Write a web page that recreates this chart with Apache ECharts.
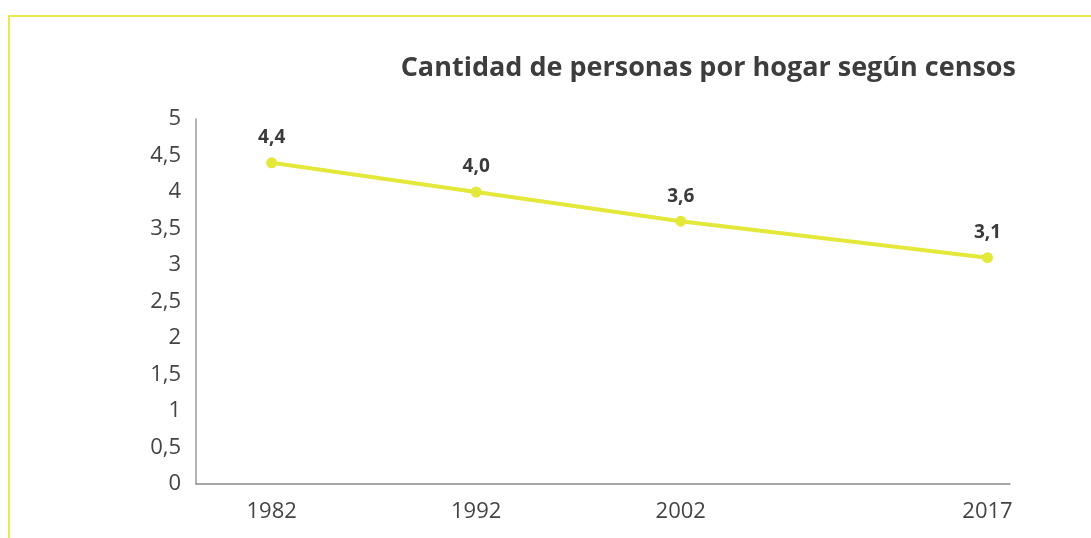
<!DOCTYPE html>
<html>
<head>
<meta charset="utf-8">
<script src="https://cdn.jsdelivr.net/npm/echarts@6/dist/echarts.min.js"></script>
<style>
  html, body { margin: 0; padding: 0; background: #fff; }
  #chart { width: 1091px; height: 538px; }
  .frame {
    position: absolute; left: 8px; top: 15px; right: -10px; bottom: -10px;
    border-top: 2px solid #e6ea4c; border-left: 2px solid #e6ea4c;
    pointer-events: none;
  }
</style>
</head>
<body>
<div id="chart"></div>
<div class="frame"></div>
<script>
// datos del gráfico
const years = [1982, 1992, 2002, 2017];
const personasPorHogar = [4.4, 4.0, 3.6, 3.1];
const yTicks = [0, 0.5, 1, 1.5, 2, 2.5, 3, 3.5, 4, 4.5, 5];

const coma = v => String(v).replace('.', ',');

const myChart = echarts.init(document.getElementById('chart'));

const option = {
  animation: false,
  title: {
    text: 'Cantidad de personas por hogar según censos',
    right: 70,
    top: 50,
    textStyle: {
      fontFamily: 'Open Sans',
      fontSize: 27,
      fontWeight: 'bold',
      color: '#3d3d3d'
    }
  },
  grid: {
    left: 196,
    right: 81,
    top: 119,
    bottom: 54
  },
  xAxis: {
    type: 'value',
    min: 1978.3,
    max: 2018.1,
    splitLine: { show: false },
    axisLine: { show: true, lineStyle: { color: '#8a8a8a', width: 1.5 } },
    axisTick: { show: false },
    axisLabel: {
      customValues: years,
      margin: 17,
      fontFamily: 'Open Sans',
      fontSize: 22,
      color: '#444',
      formatter: v => String(v)
    }
  },
  yAxis: {
    type: 'value',
    min: 0,
    max: 5,
    interval: 0.5,
    splitLine: { show: false },
    axisLine: { show: true, lineStyle: { color: '#9a9a9a', width: 1.5 } },
    axisTick: { show: false },
    axisLabel: {
      customValues: yTicks,
      margin: 15,
      fontFamily: 'Open Sans',
      fontSize: 22,
      color: '#444',
      formatter: v => coma(v)
    }
  },
  series: [
    {
      type: 'line',
      data: years.map((y, i) => [y, personasPorHogar[i]]),
      symbol: 'circle',
      symbolSize: 11,
      lineStyle: { color: '#e3e83a', width: 4 },
      itemStyle: { color: '#e3e83a' },
      label: {
        show: true,
        position: 'top',
        distance: 10,
        fontFamily: 'Open Sans',
        fontSize: 19,
        fontWeight: 'bold',
        color: '#3a3a3a',
        formatter: p => coma(p.value[1].toFixed(1))
      }
    }
  ]
};

myChart.setOption(option);

window.addEventListener('resize', () => {
  myChart.resize();
});
</script>
</body>
</html>
